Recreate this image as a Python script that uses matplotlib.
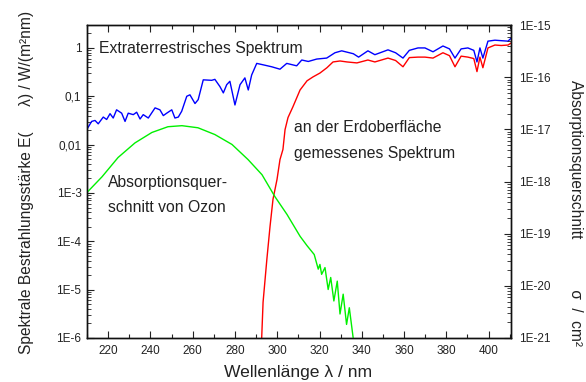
import numpy as np
import matplotlib
matplotlib.use("Agg")
import matplotlib.pyplot as plt
from matplotlib.ticker import LogLocator, FixedLocator, FixedFormatter, MultipleLocator, NullFormatter

plt.rcParams['font.family'] = ['Liberation Sans', 'DejaVu Sans']

# Extraterrestrial spectrum (nm, log10 W/(m^2 nm))
ext_wl = [210.0, 212.2, 213.8, 215.3, 217.7, 219.3, 220.9, 222.4, 224.0, 226.4, 228.0, 229.5,
          231.9, 233.5, 235.1, 236.6, 239.0, 242.2, 244.5, 246.1, 247.7, 250.1, 251.6, 253.2,
          254.8, 257.2, 258.7, 261.1, 262.6, 265.0, 269.0, 270.5, 272.9, 274.5, 276.1, 277.6,
          280.0, 282.4, 284.7, 286.3, 287.9, 290.3, 293.4, 297.4, 301.3, 304.5, 309.2, 311.6,
          314.7, 318.7, 323.4, 327.3, 330.5, 336.0, 338.5, 342.9, 346.2, 352.4, 356.0, 359.5,
          362.5, 366.6, 369.9, 373.7, 378.4, 381.5, 384.1, 387.0, 390.2, 393.0, 394.5, 395.9,
          397.3, 399.7, 403.0, 406.0, 409.2, 410.6]
ext_log = [-1.68, -1.52, -1.50, -1.57, -1.43, -1.48, -1.36, -1.45, -1.28, -1.35, -1.52, -1.35,
           -1.38, -1.33, -1.47, -1.38, -1.45, -1.24, -1.28, -1.40, -1.35, -1.28, -1.45, -1.43,
           -1.31, -1.00, -0.97, -1.15, -1.07, -0.66, -0.67, -0.65, -0.80, -0.93, -0.76, -0.69,
           -1.18, -0.76, -0.62, -0.87, -0.56, -0.32, -0.35, -0.39, -0.44, -0.32, -0.37, -0.25,
           -0.28, -0.23, -0.21, -0.10, -0.06, -0.12, -0.19, -0.06, -0.14, -0.04, -0.10, -0.21,
           -0.05, 0.00, 0.00, -0.08, 0.04, -0.02, -0.21, -0.02, 0.00, -0.05, -0.29, 0.00,
           -0.21, 0.14, 0.16, 0.15, 0.14, 0.20]

# Spectrum measured at Earth's surface
sfc_wl = [292.6, 293.3, 295.1, 296.6, 298.0, 299.9, 301.3, 302.7, 303.7, 305.1, 307.4, 310.8,
          314.1, 316.9, 320.2, 323.5, 326.4, 329.7, 333.0, 337.7, 342.9, 346.2, 352.4, 356.0,
          359.5, 362.5, 366.6, 369.9, 373.7, 378.4, 381.5, 384.1, 387.0, 390.2, 393.0, 394.5,
          395.9, 397.3, 399.7, 403.0, 406.0, 409.2, 410.6]
sfc_log = [-6.05, -5.26, -4.37, -3.69, -3.13, -2.72, -2.31, -2.10, -1.69, -1.44, -1.22, -0.87,
           -0.68, -0.60, -0.52, -0.41, -0.29, -0.27, -0.29, -0.31, -0.25, -0.29, -0.21, -0.26,
           -0.39, -0.20, -0.19, -0.19, -0.21, -0.10, -0.16, -0.39, -0.17, -0.19, -0.22, -0.49,
           -0.19, -0.41, 0.00, 0.06, 0.05, 0.06, 0.10]

# Ozone absorption cross section (nm, log10 cm^2)
oz_wl = [210.0, 217.1, 224.7, 232.7, 240.7, 248.3, 254.9, 262.5, 270.5, 278.6, 286.2, 292.8,
         298.9, 304.6, 310.8, 314.1, 315.5, 317.5, 319.4, 320.2, 321.0, 322.6, 324.1, 325.3,
         326.8, 328.4, 329.7, 331.2, 332.8, 334.1, 336.0]
oz_log = [-18.21, -17.91, -17.54, -17.26, -17.06, -16.95, -16.93, -16.97, -17.10, -17.29, -17.58, -17.87,
          -18.29, -18.63, -19.05, -19.23, -19.30, -19.40, -19.68, -19.59, -19.78, -19.65, -20.07, -19.84,
          -20.29, -19.91, -20.54, -20.16, -20.74, -20.42, -21.02]

left_ticks = [1e-6, 1e-5, 1e-4, 1e-3, 1e-2, 1e-1, 1]
left_labels = ["1E-6", "1E-5", "1E-4", "1E-3", "0,01", "0,1", "1"]
right_ticks = [1e-21, 1e-20, 1e-19, 1e-18, 1e-17, 1e-16, 1e-15]
right_labels = ["1E-21", "1E-20", "1E-19", "1E-18", "1E-17", "1E-16", "1E-15"]

fig = plt.figure(figsize=(5.86, 3.82), dpi=100)
ax = fig.add_axes([87/586, 1-338/382, (511-87)/586, (338-25)/382])
ax2 = ax.twinx()

txt = '#222222'
ax.plot(ext_wl, 10**np.array(ext_log), color='#0000ff', lw=1.0)
ax.plot(sfc_wl, 10**np.array(sfc_log), color='#ff0000', lw=1.0)
ax2.plot(oz_wl, 10**np.array(oz_log), color='#00f000', lw=1.0)

ax.set_xlim(210, 410.6)
ax.set_yscale('log')
ax.set_ylim(1e-6, 2.98)
ax2.set_yscale('log')
ax2.set_ylim(1e-21, 1e-15)

ax.xaxis.set_major_locator(MultipleLocator(20))
ax.xaxis.set_minor_locator(MultipleLocator(10))
ax.yaxis.set_major_locator(FixedLocator(left_ticks))
ax.yaxis.set_major_formatter(FixedFormatter(left_labels))
ax.yaxis.set_minor_locator(LogLocator(base=10, subs=np.arange(2, 10)))
ax.yaxis.set_minor_formatter(NullFormatter())
ax2.yaxis.set_major_locator(FixedLocator(right_ticks))
ax2.yaxis.set_major_formatter(FixedFormatter(right_labels))
ax2.yaxis.set_minor_locator(LogLocator(base=10, subs=np.arange(2, 10)))
ax2.yaxis.set_minor_formatter(NullFormatter())

ax.tick_params(axis='x', which='both', direction='in', top=True, bottom=True, labelsize=8.5,
               colors='#222222', pad=5)
ax.tick_params(axis='x', which='major', length=5, width=0.8)
ax.tick_params(axis='x', which='minor', length=3, width=0.8)
ax.tick_params(axis='y', which='both', direction='in', left=True, right=False, labelsize=8.5,
               colors='#222222', pad=4)
ax.tick_params(axis='y', which='major', length=5, width=0.8)
ax.tick_params(axis='y', which='minor', length=3, width=0.6)
ax2.tick_params(axis='y', which='both', direction='in', right=True, left=False, labelsize=8.5,
                colors='#222222', pad=6)
ax2.tick_params(axis='y', which='major', length=5, width=0.8)
ax2.tick_params(axis='y', which='minor', length=3, width=0.6)
for a in (ax, ax2):
    for s in a.spines.values():
        s.set_linewidth(1.0)
        s.set_color('#111111')

fs = 11.3
ax.text(99/586, 1-48/382, "Extraterrestrisches Spektrum", transform=fig.transFigure,
        fontsize=fs, color=txt, va='center', ha='left')
ax.text(294/586, 1-128/382, "an der Erdoberfläche", transform=fig.transFigure,
        fontsize=fs, color=txt, va='center', ha='left')
ax.text(294/586, 1-153/382, "gemessenes Spektrum", transform=fig.transFigure,
        fontsize=fs, color=txt, va='center', ha='left')
ax.text(108/586, 1-183/382, "Absorptionsquer-", transform=fig.transFigure,
        fontsize=fs, color=txt, va='center', ha='left')
ax.text(108/586, 1-208/382, "schnitt von Ozon", transform=fig.transFigure,
        fontsize=fs, color=txt, va='center', ha='left')

fig.text(298/586, 1-373/382, "Wellenlänge λ / nm", fontsize=12.6, color=txt, ha='center', va='center')
fig.text(27/586, 1-182/382, "Spektrale Bestrahlungsstärke E(      λ) / W/(m²nm)", fontsize=11.2,
         color=txt, ha='center', va='center', rotation=90)
fig.text(575/586, 1-213/382, "Absorptionsquerschnitt            σ  /  cm²", fontsize=11.2,
         color=txt, ha='center', va='center', rotation=270)

fig.savefig("out.png", dpi=100)
